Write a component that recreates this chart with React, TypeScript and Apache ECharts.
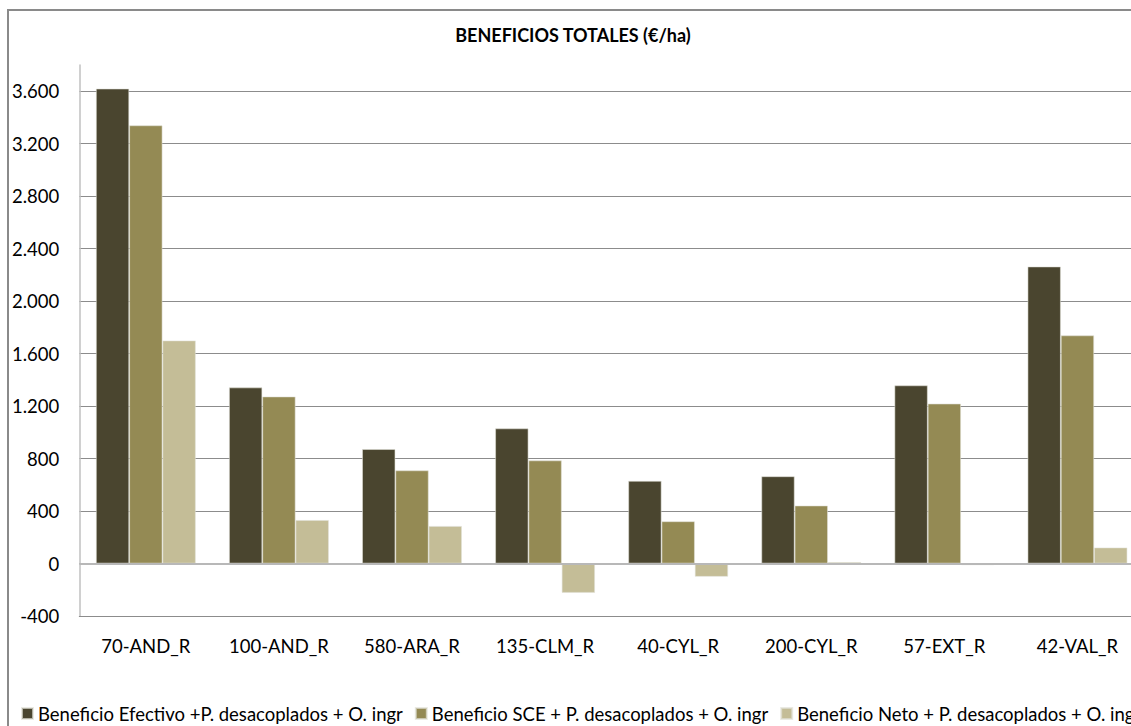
import React, { useEffect, useRef } from "react";
import * as echarts from "echarts";

const categories = ["70-AND_R", "100-AND_R", "580-ARA_R", "135-CLM_R", "40-CYL_R", "200-CYL_R", "57-EXT_R", "42-VAL_R"];
const seriesNames = [
  "Beneficio Efectivo +P. desacoplados + O. ingr",
  "Beneficio SCE + P. desacoplados + O. ingr",
  "Beneficio Neto + P. desacoplados + O. ingr",
];
const efectivo = [3620, 1342, 872, 1030, 630, 665, 1358, 2264];
const sce = [3340, 1273, 710, 786, 322, 442, 1219, 1739];
const neto = [1700, 331, 286, -223, -101, 10, -12, 122];
const yMin = -400;
const yMax = 3800;
const yStep = 400;
const chartTitle = "BENEFICIOS TOTALES (€/ha)";
const colors = ["#4A452F", "#948A54", "#C4BD97"];

const FONT = "Lato, 'Noto Sans', sans-serif";

function fmt(v: number): string {
  const s = Math.abs(v).toString().replace(/\B(?=(\d{3})+(?!\d))/g, ".");
  return (v < 0 ? "-" : "") + s;
}

export default function App() {
  const ref = useRef<HTMLDivElement>(null);
  useEffect(() => {
    if (!ref.current) return;
    const chart = echarts.init(ref.current, undefined, { renderer: "svg" });
    const data = [efectivo, sce, neto];
    chart.setOption({
      animation: false,
      backgroundColor: "#ffffff",
      textStyle: { fontFamily: FONT },
      graphic: [
        {
          type: "text",
          x: 564,
          y: 24,
          style: {
            text: chartTitle,
            fontFamily: FONT,
            fontSize: 18,
            fontWeight: "bold",
            fill: "#000",
            align: "center",
            verticalAlign: "middle",
          },
        },
      ],
      legend: {
        left: 12,
        top: 693,
        padding: 0,
        itemWidth: 11,
        itemHeight: 11,
        itemGap: 12,
        icon: "rect",
        textStyle: { fontFamily: FONT, fontSize: 18.5, color: "#000" },
        data: seriesNames,
      },
      grid: { left: 69, top: 54, width: 1066, height: 551, containLabel: false },
      xAxis: {
        type: "category",
        data: categories,
        axisLine: { show: true, onZero: false, lineStyle: { color: "#8c8c8c", width: 1 } },
        axisTick: { show: false },
        axisLabel: { color: "#000", fontFamily: FONT, fontSize: 18.5, margin: 20 },
        splitLine: { show: false },
      },
      yAxis: {
        type: "value",
        min: yMin,
        max: yMax,
        interval: yStep,
        axisLine: { show: true, lineStyle: { color: "#c0c0c0", width: 1.5 } },
        axisTick: { show: false },
        axisLabel: {
          color: "#000",
          fontFamily: FONT,
          fontSize: 18.5,
          margin: 20,
          showMaxLabel: false,
          formatter: (v: number) => (v % yStep === 0 ? fmt(v) : ""),
        },
        splitLine: { show: true, showMaxLine: false, lineStyle: { color: "#8c8c8c", width: 1 } },
      },
      series: data.map((d, i) => ({
        name: seriesNames[i],
        type: "bar",
        data: d,
        barGap: "0%",
        barCategoryGap: "25%",
        itemStyle: { color: colors[i], borderColor: "rgba(225,225,215,0.7)", borderWidth: 0.8 },
        ...(i === 2
          ? {
              markLine: {
                silent: true,
                symbol: "none",
                label: { show: false },
                lineStyle: { color: "#b8b8b8", width: 2, type: "solid" },
                data: [{ yAxis: 0 }],
              },
            }
          : {}),
      })),
    });
    return () => chart.dispose();
  }, []);

  return (
    <div
      style={{
        position: "fixed",
        left: 0,
        top: 0,
        width: 1131,
        height: 726,
        overflow: "hidden",
        background: "#fff",
      }}
    >
      <div
        style={{
          position: "absolute",
          left: 7,
          top: 9,
          borderLeft: "2px solid #8a8a8a",
          borderTop: "2px solid #8a8a8a",
          width: 1300,
          height: 760,
        }}
      >
        <div ref={ref} style={{ width: 1300, height: 760 }} />
      </div>
    </div>
  );
}
